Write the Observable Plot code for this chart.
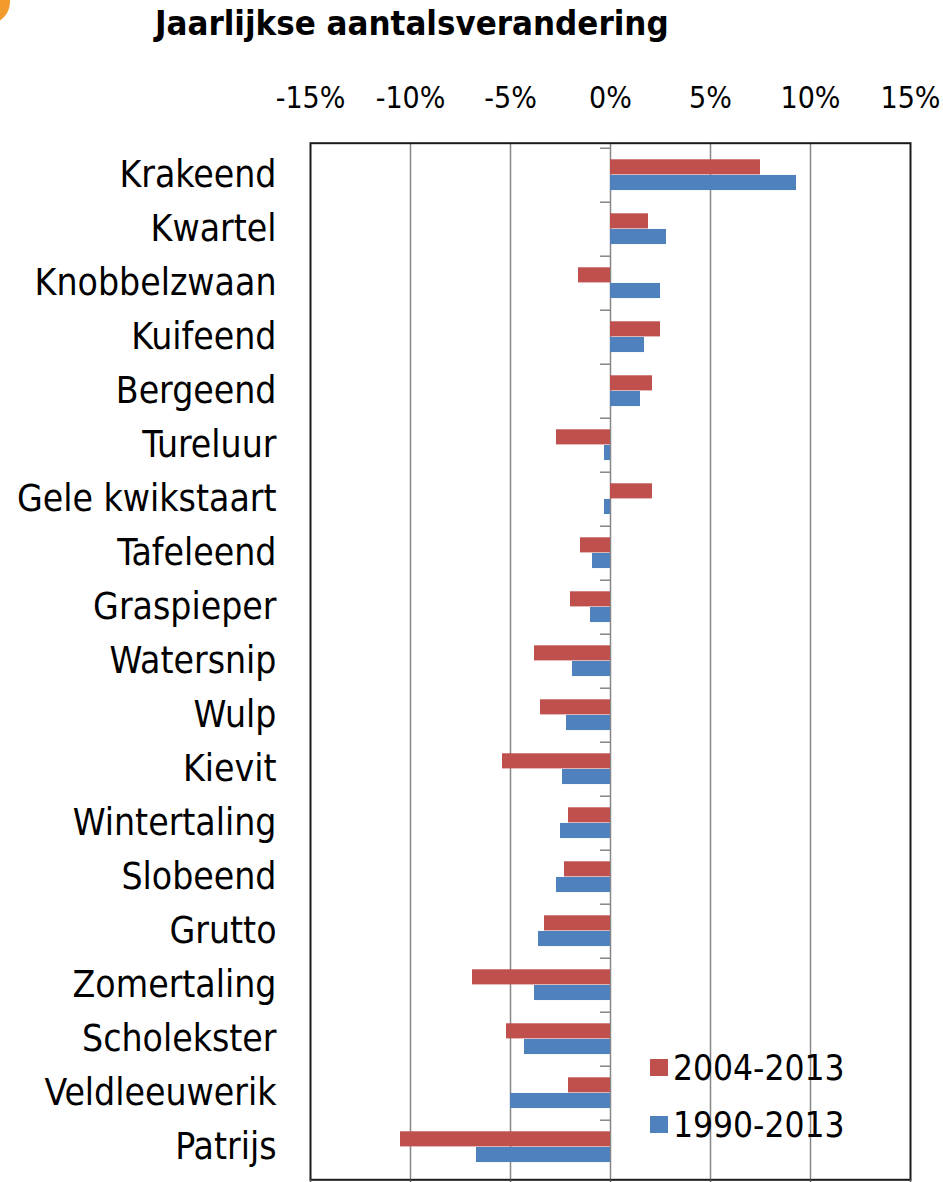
<!DOCTYPE html>
<html>
<head>
<meta charset="utf-8">
<script src="https://cdn.jsdelivr.net/npm/d3@7"></script>
<script src="https://cdn.jsdelivr.net/npm/@observablehq/plot@0.6"></script>
<style>
  html, body { margin: 0; padding: 0; background: white; }
  body { width: 943px; height: 1182px; position: relative; overflow: hidden; font-family: "DejaVu Sans Condensed", "DejaVu Sans", sans-serif; }
  #title { position: absolute; left: 155px; top: 3px; font-size: 34.5px; font-weight: bold; color: black; white-space: nowrap; }
  #deco { position: absolute; left: -34px; top: -20px; width: 44px; height: 44px; border-radius: 50%; background: #F39A2C; }
  #chart { position: absolute; left: 0; top: 50px; }
  #legend { position: absolute; left: 650px; top: 1039px; font-size: 35px; color: black; }
  .item { display: flex; align-items: center; height: 57px; white-space: nowrap; }
  .sw { width: 18px; height: 17px; margin-right: 5px; }
</style>
</head>
<body>
<div id="deco"></div>
<div id="title">Jaarlijkse aantalsverandering</div>
<div id="chart"></div>
<div id="legend"></div>
<script>
const species = ["Krakeend","Kwartel","Knobbelzwaan","Kuifeend","Bergeend","Tureluur","Gele kwikstaart","Tafeleend","Graspieper","Watersnip","Wulp","Kievit","Wintertaling","Slobeend","Grutto","Zomertaling","Scholekster","Veldleeuwerik","Patrijs"];
const change2004 = [7.5,1.9,-1.6,2.5,2.1,-2.7,2.1,-1.5,-2.0,-3.8,-3.5,-5.4,-2.1,-2.3,-3.3,-6.9,-5.2,-2.1,-10.5];
const change1990 = [9.3,2.8,2.5,1.7,1.5,-0.3,-0.3,-0.9,-1.0,-1.9,-2.2,-2.4,-2.5,-2.7,-3.6,-3.8,-4.3,-5.0,-6.7];
const periods = ["2004-2013","1990-2013"];
const colors = ["#C0504D","#4F81BD"];
const xTicks = [-15,-10,-5,0,5,10,15];
const gridTicks = [-10,-5,0,5,10];

const rows2004 = species.map((s,i) => ({species: s, value: change2004[i]}));
const rows1990 = species.map((s,i) => ({species: s, value: change1990[i]}));

const height = 1132, marginTop = 92.7, marginBottom = 2.7;
const bw = (height - marginTop - marginBottom) / species.length;
const barH = bw * 0.287;
const gapTop = bw * 0.207;

const chart = Plot.plot({
  width: 943,
  height,
  marginLeft: 310,
  marginRight: 33,
  marginTop,
  marginBottom,
  style: {fontFamily: "'DejaVu Sans Condensed', 'DejaVu Sans', sans-serif", fontSize: "30px", color: "black", background: "white", overflow: "visible"},
  x: {domain: [-15, 15], ticks: xTicks, tickFormat: d => `${d}%`, axis: null, label: null},
  y: {domain: species, padding: 0, axis: null, label: null},
  marks: [
    Plot.ruleX(gridTicks, {stroke: "#868686", strokeWidth: 1.5}),
    Plot.ruleY(species, {y: d => d, x1: -0.5, x2: 0, dy: -bw / 2, stroke: "#868686", strokeWidth: 1.5}),
    Plot.barX(rows2004, {y: "species", x: "value", fill: colors[0], insetTop: gapTop, insetBottom: bw - gapTop - barH}),
    Plot.barX(rows1990, {y: "species", x: "value", fill: colors[1], insetTop: gapTop + barH, insetBottom: bw - gapTop - 2 * barH}),
    Plot.frame({stroke: "#1a1a1a", strokeWidth: 2}),
    Plot.axisX({anchor: "top", ticks: xTicks, tickFormat: d => `${d}%`, tickSize: 0, tickPadding: 35, fontSize: 30, label: null}),
    Plot.axisX({anchor: "bottom", ticks: xTicks, tickFormat: () => "", tickSize: 6, stroke: "#555", strokeWidth: 1.5, label: null}),
    Plot.axisY({anchor: "left", tickSize: 0, tickPadding: 34, fontSize: 37, label: null})
  ]
});
document.getElementById("chart").appendChild(chart);

const legend = d3.select("#legend");
periods.forEach((p, i) => {
  const it = legend.append("div").attr("class", "item");
  it.append("div").attr("class", "sw").style("background", colors[i]);
  it.append("span").text(p);
});
</script>
</body>
</html>
